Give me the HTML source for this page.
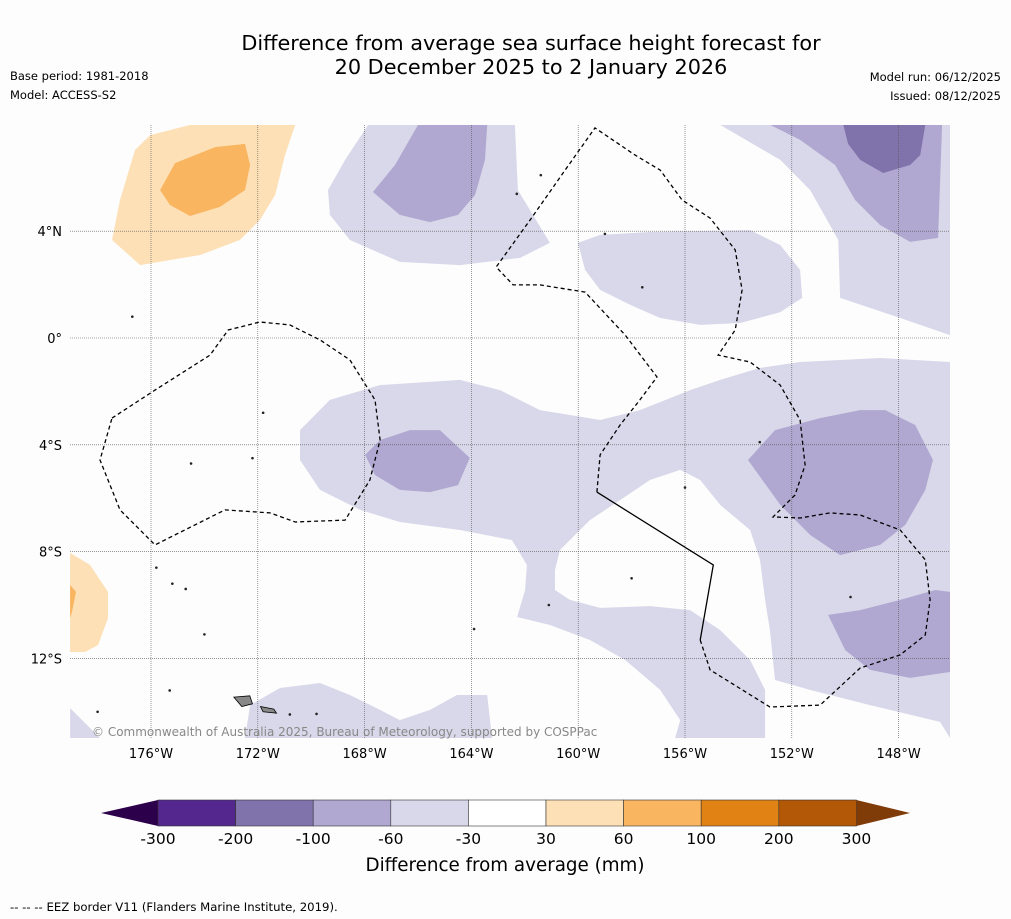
<!DOCTYPE html>
<html><head><meta charset="utf-8"><style>
body{margin:0;background:#fdfdfd;}
svg{display:block;font-family:"DejaVu Sans","Liberation Sans",sans-serif;}
</style></head><body>
<svg id="chart" width="1011" height="919" viewBox="0 0 1011 919" xmlns="http://www.w3.org/2000/svg">
<rect x="0" y="0" width="1011" height="919" fill="#fdfdfd"/>
<text x="531" y="50" font-size="20.8" text-anchor="middle" fill="#000">Difference from average sea surface height forecast for</text>
<text x="531" y="74" font-size="20.8" text-anchor="middle" fill="#000">20 December 2025 to 2 January 2026</text>
<text x="10" y="80" font-size="11.5">Base period: 1981-2018</text>
<text x="10" y="99" font-size="11.5">Model: ACCESS-S2</text>
<text x="1001" y="81" font-size="11.5" text-anchor="end">Model run: 06/12/2025</text>
<text x="1001" y="100" font-size="11.5" text-anchor="end">Issued: 08/12/2025</text>
<defs><clipPath id="mapclip"><rect x="70" y="125" width="880" height="613"/></clipPath></defs>
<g id="map" clip-path="url(#mapclip)"></g>
<g id="axes"></g>
<text x="92" y="736" font-size="12" fill="#888">© Commonwealth of Australia 2025, Bureau of Meteorology, supported by COSPPac</text>
<g id="colorbar"></g>
<text x="505" y="871" font-size="18.3" text-anchor="middle">Difference from average (mm)</text>
<text x="10" y="911" font-size="11.7">--  --  -- EEZ border V11 (Flanders Marine Institute, 2019).</text>
</svg>
<script>
const NS="http://www.w3.org/2000/svg";
// colour scale data
const cbBounds=[-300,-200,-100,-60,-30,30,60,100,200,300];
const cbColors=["#54278f","#8073ac","#b0a8d0","#d8d8ea","#ffffff","#fde0b6","#f9b560","#e08214","#b35806"];
const cbLow="#2d004b", cbHigh="#7f3b08";
const lonTicks=[-176,-172,-168,-164,-160,-156,-152,-148];
const latTicks=[4,0,-4,-8,-12];
// contour regions: level index into cbColors, lon/lat pairs
const regionLevels=[3,2,3,2,1,3,3,2,2,2,3,3,5,6,5,6];
const regionCoords=[
[[-167.87,7.98],[-162.37,7.98],[-162.26,5.54],[-161.06,3.56],[-162.18,3.0],[-164.43,2.73],[-166.68,2.85],[-168.55,3.67],[-169.3,4.61],[-169.37,5.54],[-168.73,6.67]],
[[-166.0,7.98],[-163.41,7.98],[-163.49,6.67],[-163.86,5.36],[-164.5,4.61],[-165.55,4.34],[-166.68,4.61],[-167.69,5.47],[-166.86,6.48]],
[[-154.68,7.98],[-146.07,7.98],[-146.07,0.11],[-147.94,0.75],[-150.19,1.5],[-150.26,3.67],[-151.31,5.54],[-152.43,6.67]],
[[-152.81,7.98],[-146.37,7.98],[-146.52,3.75],[-147.57,3.6],[-148.69,4.23],[-149.63,5.17],[-150.38,6.48],[-151.69,7.42]],
[[-150.07,7.98],[-147.0,7.98],[-147.19,6.85],[-147.57,6.48],[-148.58,6.18],[-149.44,6.67],[-149.89,7.27]],
[[-160.01,3.56],[-159.18,3.86],[-157.31,3.97],[-153.56,4.04],[-152.43,3.48],[-151.69,2.55],[-151.61,1.5],[-152.43,0.97],[-153.93,0.56],[-155.43,0.49],[-156.93,0.75],[-158.05,1.24],[-159.18,1.8],[-159.74,2.55]],
[[-170.42,-3.45],[-169.3,-2.32],[-167.42,-1.76],[-164.43,-1.57],[-162.93,-1.95],[-161.43,-2.7],[-159.18,-3.07],[-157.69,-2.7],[-155.81,-1.95],[-154.68,-1.57],[-153.19,-1.12],[-151.69,-0.9],[-148.69,-0.75],[-146.07,-0.9],[-146.07,-14.98],[-146.45,-14.38],[-149.07,-13.75],[-151.32,-13.18],[-152.63,-12.81],[-152.82,-10.94],[-153.0,-9.81],[-153.19,-8.31],[-153.56,-7.19],[-154.68,-6.25],[-155.43,-5.32],[-156.18,-4.94],[-157.31,-5.32],[-158.43,-6.07],[-159.56,-6.82],[-160.68,-7.94],[-160.87,-8.69],[-160.87,-9.44],[-160.31,-9.81],[-159.18,-10.11],[-157.31,-10.04],[-155.81,-10.19],[-154.68,-10.94],[-153.56,-12.06],[-153.0,-13.18],[-153.0,-14.98],[-156.37,-14.98],[-156.18,-14.31],[-156.93,-13.18],[-158.24,-12.06],[-159.56,-11.31],[-161.06,-10.75],[-162.29,-10.45],[-161.99,-9.44],[-161.92,-8.5],[-162.48,-7.57],[-164.43,-7.19],[-166.68,-6.89],[-168.17,-6.44],[-169.67,-5.69],[-170.42,-4.57]],
[[-167.98,-4.38],[-167.42,-3.82],[-166.3,-3.45],[-165.18,-3.45],[-164.06,-4.49],[-164.5,-5.51],[-165.55,-5.77],[-166.68,-5.69],[-167.61,-5.13]],
[[-153.64,-4.57],[-152.63,-3.45],[-150.94,-3.0],[-149.44,-2.7],[-148.5,-2.7],[-147.38,-3.26],[-146.71,-4.57],[-147.0,-5.69],[-147.75,-7.0],[-148.69,-7.75],[-150.19,-8.13],[-151.31,-7.38],[-152.43,-6.25]],
[[-150.64,-10.37],[-149.44,-10.19],[-147.94,-9.81],[-146.63,-9.44],[-146.07,-9.51],[-146.07,-12.51],[-147.57,-12.73],[-149.07,-12.43],[-150.0,-11.69]],
[[-172.48,-14.98],[-172.29,-13.75],[-171.17,-13.11],[-169.67,-12.92],[-168.55,-13.37],[-167.42,-13.93],[-166.68,-14.31],[-165.55,-13.93],[-164.54,-13.37],[-163.41,-13.37],[-163.23,-14.98]],
[[-179.03,-13.86],[-177.91,-14.98],[-179.03,-14.98]],
[[-177.46,3.67],[-177.16,5.17],[-176.6,7.04],[-176.03,7.6],[-174.53,7.98],[-170.6,7.98],[-170.98,6.85],[-171.35,5.36],[-171.92,4.42],[-172.67,3.67],[-174.16,3.11],[-176.41,2.73]],
[[-175.66,5.54],[-175.1,6.55],[-173.6,7.15],[-172.48,7.27],[-172.29,6.48],[-172.48,5.54],[-173.42,4.91],[-174.54,4.57],[-175.29,4.98]],
[[-179.03,-8.05],[-178.28,-8.5],[-177.61,-9.51],[-177.61,-10.49],[-177.98,-11.5],[-178.47,-11.76],[-179.03,-11.76]],
[[-179.03,-9.25],[-178.81,-9.51],[-178.96,-10.26],[-179.03,-10.49]]
];
const eezLeft=[[-177.46,-3.0],[-175.85,-1.95],[-173.79,-0.64],[-173.11,0.3],[-171.92,0.6],[-170.8,0.49],[-169.67,-0.07],[-168.55,-0.82],[-167.61,-2.32],[-167.42,-3.82],[-167.8,-5.32],[-168.73,-6.82],[-170.6,-6.89],[-171.54,-6.55],[-173.23,-6.44],[-175.85,-7.75],[-177.16,-6.44],[-177.91,-4.57],[-177.46,-3.0]];
const eezRight=[[-155.43,-11.31],[-155.06,-12.43],[-152.82,-13.82],[-150.94,-13.75],[-149.44,-12.36],[-147.94,-11.87],[-147.0,-11.12],[-146.82,-9.81],[-147.0,-8.31],[-147.94,-7.19],[-149.44,-6.63],[-150.57,-6.55],[-151.69,-6.74],[-152.7,-6.7],[-151.88,-5.88],[-151.5,-4.76],[-151.69,-3.07],[-152.44,-1.76],[-153.56,-0.9],[-154.76,-0.64],[-154.12,0.3],[-153.86,1.8],[-154.12,3.3],[-155.06,4.49],[-156.11,5.17],[-156.93,6.29],[-157.87,6.85],[-159.37,7.87],[-160.49,6.29],[-161.8,4.42],[-163.07,2.66],[-162.44,1.99],[-161.43,1.99],[-159.74,1.72],[-158.24,0.11],[-157.05,-1.46],[-157.69,-2.32],[-158.43,-3.26],[-159.18,-4.38],[-159.3,-5.77]];
const eezSolid=[[-159.3,-5.77],[-154.94,-8.5],[-155.43,-11.31]];
const islands=[[-175.3,-13.2],[-178.0,-14.0],[-171.8,-2.8],[-174.5,-4.7],[-172.2,-4.5],[-161.4,6.1],[-162.3,5.4],[-157.6,1.9],[-159.0,3.9],[-153.2,-3.9],[-156.0,-5.6],[-158.0,-9.0],[-161.1,-10.0],[-149.8,-9.7],[-163.9,-10.9],[-175.8,-8.6],[-175.2,-9.2],[-174.7,-9.4],[-174.0,-11.1],[-176.7,0.8],[-170.8,-14.1],[-169.8,-14.08]];

const x=lon=>44.2+(lon+180)*26.7;
const y=lat=>338-lat*26.7;
const pts=a=>a.map(p=>x(p[0]).toFixed(1)+","+y(p[1]).toFixed(1)).join(" ");
const map=document.getElementById("map");
regionCoords.forEach((r,i)=>{
  const p=document.createElementNS(NS,"polygon");
  p.setAttribute("points",pts(r));
  p.setAttribute("fill",cbColors[regionLevels[i]]);
  
  
  map.appendChild(p);
});
const gridG=document.createElementNS(NS,"g");
map.appendChild(gridG);
lonTicks.forEach(l=>{
  const ln=document.createElementNS(NS,"line");
  ln.setAttribute("x1",x(l));ln.setAttribute("x2",x(l));ln.setAttribute("y1",125);ln.setAttribute("y2",738);
  ln.setAttribute("stroke","#555");ln.setAttribute("stroke-width","0.6");ln.setAttribute("stroke-dasharray","1,1");
  
  
  gridG.appendChild(ln);
});
latTicks.forEach(l=>{
  const ln=document.createElementNS(NS,"line");
  ln.setAttribute("y1",y(l));ln.setAttribute("y2",y(l));ln.setAttribute("x1",70);ln.setAttribute("x2",950);
  ln.setAttribute("stroke","#555");ln.setAttribute("stroke-width","0.6");ln.setAttribute("stroke-dasharray","1,1");
  
  
  gridG.appendChild(ln);
});
[[eezLeft,"4,3"],[eezRight,"4,3"],[eezSolid,"none"]].forEach(([a,d])=>{
  const pl=document.createElementNS(NS,"polyline");
  pl.setAttribute("points",pts(a));pl.setAttribute("fill","none");pl.setAttribute("stroke","#000");
  pl.setAttribute("stroke-width","1.3");pl.setAttribute("stroke-dasharray",d);
  
  
  map.appendChild(pl);
});
islands.forEach(s=>{
  const c=document.createElementNS(NS,"circle");
  c.setAttribute("cx",x(s[0]));c.setAttribute("cy",y(s[1]));c.setAttribute("r","1.3");c.setAttribute("fill","#222");
  
  
  map.appendChild(c);
});
[[[-172.9,-13.45],[-172.3,-13.4],[-172.2,-13.7],[-172.6,-13.8]],[[-171.9,-13.8],[-171.4,-13.9],[-171.3,-14.05],[-171.8,-14.0]]].forEach(isl=>{
  const big=document.createElementNS(NS,"polygon");
  big.setAttribute("points",pts(isl));
  big.setAttribute("fill","#888");big.setAttribute("stroke","#000");big.setAttribute("stroke-width","0.8");
  
  
  map.appendChild(big);
});

const axes=document.getElementById("axes");
const lonLab=l=>Math.abs(l)+"°W";
const latLab=l=>l===0?"0°":Math.abs(l)+"°"+(l>0?"N":"S");
lonTicks.forEach(l=>{
  const t=document.createElementNS(NS,"text");
  t.setAttribute("x",x(l));t.setAttribute("y",758);t.setAttribute("font-size","13");t.setAttribute("text-anchor","middle");
  t.textContent=lonLab(l);
  
  
  axes.appendChild(t);
});
latTicks.forEach(l=>{
  const t=document.createElementNS(NS,"text");
  t.setAttribute("x",62);t.setAttribute("y",y(l)+5);t.setAttribute("font-size","13");t.setAttribute("text-anchor","end");
  t.textContent=latLab(l);
  
  
  axes.appendChild(t);
});

// colorbar
const cb=document.getElementById("colorbar");
const cbX0=158, cbW=77.6, cbY=800, cbH=26;
const cx=i=>cbX0+i*cbW;
const lowT=document.createElementNS(NS,"polygon");
lowT.setAttribute("points",`${cx(0)},${cbY} ${cx(0)},${cbY+cbH} 101,${cbY+cbH/2}`);
lowT.setAttribute("fill",cbLow);


cb.appendChild(lowT);
cbColors.forEach((c,i)=>{
  const r=document.createElementNS(NS,"rect");
  r.setAttribute("x",cx(i));r.setAttribute("y",cbY);r.setAttribute("width",cbW);r.setAttribute("height",cbH);
  r.setAttribute("fill",c);r.setAttribute("stroke","#333");r.setAttribute("stroke-width","0.6");
  
  
  cb.appendChild(r);
});
const n=cbColors.length;
const hiT=document.createElementNS(NS,"polygon");
hiT.setAttribute("points",`${cx(n)},${cbY} ${cx(n)},${cbY+cbH} 910,${cbY+cbH/2}`);
hiT.setAttribute("fill",cbHigh);


cb.appendChild(hiT);
cbBounds.forEach((b,i)=>{
  const t=document.createElementNS(NS,"text");
  t.setAttribute("x",cx(i));t.setAttribute("y",844);t.setAttribute("font-size","15.5");t.setAttribute("text-anchor","middle");
  t.textContent=b;
  
  
  cb.appendChild(t);
});
</script>
</body></html>
